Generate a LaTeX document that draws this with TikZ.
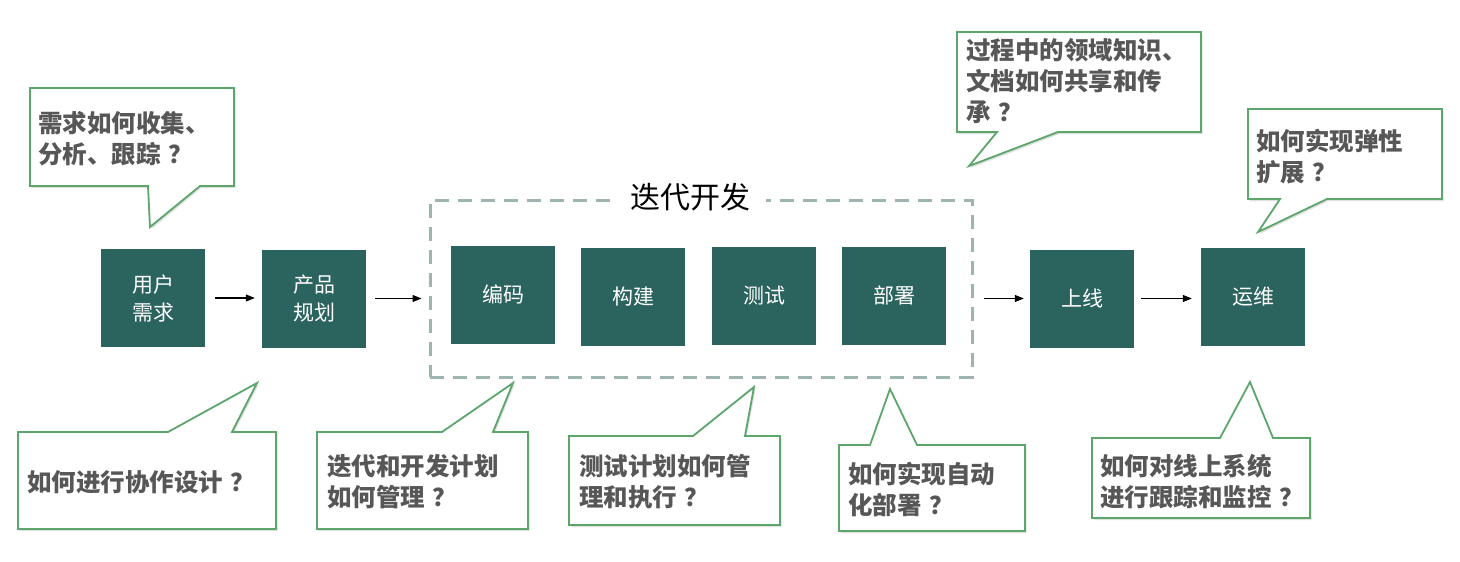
\documentclass[tikz,border=0pt]{standalone}
\usepackage{fontspec}
\newfontfamily\cjk{Noto Sans CJK SC}
\usetikzlibrary{arrows.meta,shadows}
\definecolor{boxteal}{HTML}{2B635F}
\definecolor{bubgreen}{HTML}{5CA56B}
\definecolor{qgray}{HTML}{575757}
\definecolor{dashgray}{HTML}{9DB4B1}
\newcommand{\qm}{\hspace{0.3em}？}
\begin{document}
\begin{tikzpicture}[x=1pt,y=-1pt,
  stepbox/.style={fill=boxteal, minimum width=104pt, minimum height=98pt, inner sep=0pt, text=white, font=\cjk\fontsize{21}{28}\selectfont, align=center},
  flow/.style={-{Triangle[length=9pt,width=7pt]}, line width=1.1pt, black},
  bubble/.style={draw=bubgreen, line width=1.8pt, fill=white, line join=miter, drop shadow={opacity=0.25, shadow xshift=1.5pt, shadow yshift=-2pt}},
  qtext/.style={font=\cjk\bfseries\fontsize{24.5}{31}\selectfont, text=qgray, align=left, anchor=west, inner sep=0pt},
  devframe/.style={draw=dashgray, line width=3pt, dash pattern=on 14pt off 9pt, minimum width=542pt, minimum height=177pt, inner sep=0pt}
]
\useasboundingbox[fill=white] (0,0) rectangle (1460,562);

% development frame
\node[devframe] (dev) at (701,288.5) {};
\node[fill=white, inner xsep=16pt, inner ysep=2pt, font=\cjk\fontsize{30}{36}\selectfont] (devtitle) at (690,197) {迭代开发};

% process boxes
\node[stepbox] (req) at (153,298) {用户\\需求};
\node[stepbox] (plan) at (314,298.5) {产品\\规划};
\node[stepbox] (code) at (503,294.5) {编码};
\node[stepbox] (build) at (633,296.5) {构建};
\node[stepbox] (test) at (764,295.5) {测试};
\node[stepbox] (deploy) at (894,295.5) {部署};
\node[stepbox] (online) at (1082,298.5) {上线};
\node[stepbox] (ops) at (1253,297) {运维};

% arrows
\draw[flow, shorten <=10pt, shorten >=7pt] (req.east) -- (plan.west |- req.east);
\draw[flow, shorten <=9pt, shorten >=7pt] (plan.east) -- (plan.east -| dev.west);
\draw[flow, shorten <=10pt, shorten >=6pt] (online.west -| dev.east) -- (online.west);
\draw[flow, shorten <=7pt, shorten >=9pt] (online.east) -- (ops.west |- online.east);

% callouts (top)
\draw[bubble] (30,88) -- (234,88) -- (234,186) -- (200,186) -- (150,227) -- (148,186) -- (30,186) -- cycle;
\node[qtext] (q1) at (38,139) {需求如何收集、\\分析、跟踪\qm};

\draw[bubble] (957,32) -- (1201,32) -- (1201,132) -- (1058,132) -- (969,166) -- (997,132) -- (957,132) -- cycle;
\node[qtext] (q7) at (966,81) {过程中的领域知识、\\文档如何共享和传\\承\qm};

\draw[bubble] (1248,109) -- (1442,109) -- (1442,199) -- (1327,199) -- (1258,232) -- (1280,199) -- (1248,199) -- cycle;
\node[qtext] (q8) at (1256,157) {如何实现弹性\\扩展\qm};

% callouts (bottom)
\draw[bubble] (18,432) -- (168,432) -- (257,383) -- (232,432) -- (276,432) -- (276,529) -- (18,529) -- cycle;
\node[qtext] (q2) at (27,482) {如何进行协作设计\qm};

\draw[bubble] (317,432) -- (442,432) -- (513,383) -- (493,432) -- (528,432) -- (528,529) -- (317,529) -- cycle;
\node[qtext] (q3) at (327,482) {迭代和开发计划\\如何管理\qm};

\draw[bubble] (569,436) -- (693,436) -- (754,387) -- (745,436) -- (780,436) -- (780,525) -- (569,525) -- cycle;
\node[qtext] (q4) at (579,482) {测试计划如何管\\理和执行\qm};

\draw[bubble] (839,445) -- (870,445) -- (890,389) -- (917,445) -- (1025,445) -- (1025,531) -- (839,531) -- cycle;
\node[qtext] (q5) at (848,490) {如何实现自动\\化部署\qm};

\draw[bubble] (1092,438) -- (1220,438) -- (1250,382) -- (1273,438) -- (1310,438) -- (1310,518) -- (1092,518) -- cycle;
\node[qtext] (q6) at (1100,482) {如何对线上系统\\进行跟踪和监控\qm};
\end{tikzpicture}
\end{document}
